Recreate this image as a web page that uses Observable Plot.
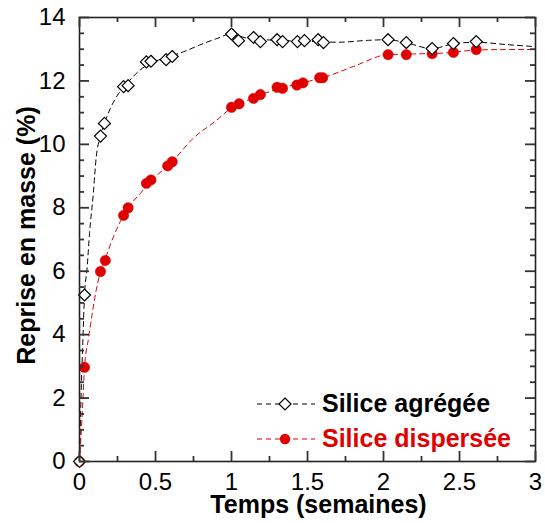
<!DOCTYPE html>
<html>
<head>
<meta charset="utf-8">
<script src="https://cdn.jsdelivr.net/npm/d3@7"></script>
<script src="https://cdn.jsdelivr.net/npm/@observablehq/plot@0.6"></script>
<style>
  html, body { margin: 0; padding: 0; background: white; }
  #wrap { position: relative; width: 545px; height: 523px; font-family: "Liberation Sans", Arial, sans-serif; }
  #legend { position: absolute; left: 256px; top: 386px; }
  .row { display: flex; align-items: center; height: 35px; font-size: 25px; font-weight: bold; }
  .row svg { margin-right: 6px; }
</style>
</head>
<body>
<div id="wrap"></div>
<script>
// Measured points — Silice agrégée (diamonds)
const aggX = [0, 0.033, 0.138, 0.164, 0.29, 0.32, 0.44, 0.47, 0.57, 0.61, 1.0, 1.046, 1.145, 1.19, 1.30, 1.336, 1.434, 1.48, 1.57, 1.605, 2.03, 2.15, 2.32, 2.46, 2.61];
const aggY = [0, 5.25, 10.26, 10.66, 11.82, 11.85, 12.6, 12.62, 12.67, 12.77, 13.48, 13.27, 13.37, 13.24, 13.3, 13.24, 13.24, 13.27, 13.3, 13.21, 13.3, 13.21, 13.02, 13.18, 13.24];
// Measured points — Silice dispersée (red dots)
const dispX = [0, 0.033, 0.138, 0.17, 0.29, 0.32, 0.44, 0.47, 0.58, 0.61, 1.0, 1.05, 1.145, 1.19, 1.30, 1.336, 1.43, 1.47, 1.58, 1.6, 2.03, 2.15, 2.32, 2.46, 2.61];
const dispY = [0, 2.97, 5.99, 6.34, 7.76, 8.0, 8.77, 8.88, 9.32, 9.45, 11.17, 11.28, 11.45, 11.57, 11.8, 11.77, 11.87, 11.94, 12.1, 12.1, 12.83, 12.83, 12.86, 12.9, 12.99];
// Dashed trend curves
const fitAggX = [0, 0.01, 0.02, 0.033, 0.05, 0.066, 0.09, 0.11, 0.138, 0.164, 0.2, 0.25, 0.3, 0.4, 0.5, 0.6, 0.7, 0.8, 0.9, 1.0, 1.1, 1.3, 1.5, 1.7, 1.9, 2.03, 2.15, 2.32, 2.46, 2.61, 2.8, 3.0];
const fitAggY = [0, 2.0, 3.5, 5.25, 6.1, 7.2, 8.4, 9.6, 10.26, 10.66, 11.1, 11.55, 11.85, 12.35, 12.62, 12.78, 12.95, 13.15, 13.33, 13.48, 13.35, 13.28, 13.25, 13.22, 13.28, 13.3, 13.2, 13.02, 13.17, 13.22, 13.15, 13.08];
const fitDispX = [0, 0.01, 0.02, 0.033, 0.06, 0.085, 0.11, 0.138, 0.17, 0.22, 0.29, 0.32, 0.4, 0.47, 0.6, 0.75, 0.9, 1.0, 1.1, 1.2, 1.35, 1.5, 1.6, 1.8, 2.03, 2.2, 2.4, 2.6, 2.8, 3.0];
const fitDispY = [0, 0.8, 1.7, 2.97, 3.9, 4.7, 5.4, 5.99, 6.4, 7.05, 7.76, 8.0, 8.45, 8.85, 9.4, 10.2, 10.75, 11.15, 11.38, 11.58, 11.8, 11.98, 12.1, 12.45, 12.83, 12.85, 12.88, 12.97, 12.99, 12.99];
// Ticks
const xMajor = [0, 0.5, 1, 1.5, 2, 2.5, 3];
const xMinor = [0.25, 0.75, 1.25, 1.75, 2.25, 2.75];
const yMajor = [0, 2, 4, 6, 8, 10, 12, 14];
const yMinor = [0.5, 1, 1.5, 2.5, 3, 3.5, 4.5, 5, 5.5, 6.5, 7, 7.5, 8.5, 9, 9.5, 10.5, 11, 11.5, 12.5, 13, 13.5];
const xTitle = "Temps (semaines)";
const yTitle = "Reprise en masse (%)";
const seriesNames = ["Silice agrégée", "Silice dispersée"];
const RED = "#e00000";

const agg = aggX.map((x, i) => ({x, y: aggY[i]}));
const disp = dispX.map((x, i) => ({x, y: dispY[i]}));
const fitAgg = fitAggX.map((x, i) => ({x, y: fitAggY[i]}));
const fitDisp = fitDispX.map((x, i) => ({x, y: fitDispY[i]}));
const obj = arr => arr.map(v => ({v}));

const W = 545, H = 523, ML = 79, MR = 10, MT = 17, MB = 62;
const FW = W - ML - MR, FH = H - MT - MB;
const MAJ = 10, MIN = 5;
const tk = {stroke: "#333", strokeWidth: 1.8};

const chart = Plot.plot({
  width: W, height: H,
  marginLeft: ML, marginRight: MR, marginTop: MT, marginBottom: MB,
  x: {domain: [0, 3]},
  y: {domain: [0, 14]},
  style: {fontFamily: "'Liberation Sans', Arial, sans-serif", background: "white", color: "black"},
  marks: [
    Plot.line(fitAgg, {x: "x", y: "y", curve: "monotone-x", stroke: "black", strokeWidth: 1, strokeDasharray: "5,4"}),
    Plot.line(fitDisp, {x: "x", y: "y", curve: "monotone-x", stroke: RED, strokeWidth: 1, strokeDasharray: "5,4"}),
    Plot.dot(disp, {x: "x", y: "y", r: 5.2, fill: RED, stroke: RED, strokeWidth: 0.5}),
    Plot.dot(agg, {x: "x", y: "y", symbol: "diamond2", r: 5.4, fill: "white", stroke: "black", strokeWidth: 1.2}),
    Plot.frame({stroke: "#222", strokeWidth: 1.6}),
    // inward ticks on all four sides (rules inset from the frame)
    Plot.ruleX(obj(xMajor), {x: "v", insetTop: FH - MAJ, ...tk}),
    Plot.ruleX(obj(xMinor), {x: "v", insetTop: FH - MIN, ...tk}),
    Plot.ruleX(obj(xMajor), {x: "v", insetBottom: FH - MAJ, ...tk}),
    Plot.ruleX(obj(xMinor), {x: "v", insetBottom: FH - MIN, ...tk}),
    Plot.ruleY(obj(yMajor), {y: "v", insetRight: FW - MAJ, ...tk}),
    Plot.ruleY(obj(yMinor), {y: "v", insetRight: FW - MIN, ...tk}),
    Plot.ruleY(obj(yMajor), {y: "v", insetLeft: FW - MAJ, ...tk}),
    Plot.ruleY(obj(yMinor), {y: "v", insetLeft: FW - MIN, ...tk}),
    // tick labels
    Plot.axisX({anchor: "bottom", ticks: xMajor, tickSize: 0, tickPadding: 11, fontSize: 24, label: null, tickFormat: d => String(d)}),
    Plot.axisY({anchor: "left", ticks: yMajor, tickSize: 0, tickPadding: 14, fontSize: 24, label: null, tickFormat: d => String(d)}),
    // axis titles
    Plot.text([xTitle], {frameAnchor: "bottom", dy: 43, dx: 11, lineAnchor: "middle", textAnchor: "middle", text: d => d, fontSize: 25, fontWeight: "bold", fill: "black"}),
    Plot.text([yTitle], {frameAnchor: "left", dx: -53, dy: -4, rotate: -90, lineAnchor: "middle", textAnchor: "middle", text: d => d, fontSize: 25, fontWeight: "bold", fill: "black"})
  ]
});

const wrap = document.getElementById("wrap");
wrap.appendChild(chart);

// Legend
const legend = document.createElement("div");
legend.id = "legend";
const sym = [
  `<svg width="60" height="20"><line x1="1" y1="10" x2="59" y2="10" stroke="black" stroke-dasharray="5,4"/><path d="M29,4 L35,10 L29,16 L23,10 Z" fill="white" stroke="black" stroke-width="1.2"/></svg>`,
  `<svg width="60" height="20"><line x1="1" y1="10" x2="59" y2="10" stroke="${RED}" stroke-dasharray="5,4"/><circle cx="29" cy="10" r="5.2" fill="${RED}"/></svg>`
];
seriesNames.forEach((name, i) => {
  const row = document.createElement("div");
  row.className = "row";
  row.style.color = i === 0 ? "black" : RED;
  row.innerHTML = sym[i] + `<span>${name}</span>`;
  legend.appendChild(row);
});
wrap.appendChild(legend);
</script>
</body>
</html>
